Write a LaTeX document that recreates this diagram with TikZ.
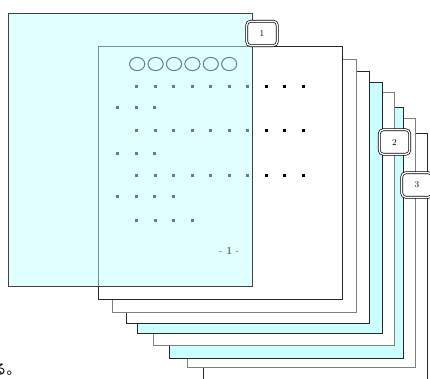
\documentclass[tikz,border=0pt]{standalone}
\usepackage{fontspec}
\newfontfamily\cjk{Noto Sans CJK JP}
\definecolor{pagecyan}{RGB}{204,255,255}
\definecolor{overcyan}{RGB}{198,255,255}
\begin{document}
\begin{tikzpicture}[x=1pt,y=-1pt,
  darkpage/.style={draw=black!85, fill=white, line width=0.8pt},
  graypage/.style={draw=black!50, fill=white, line width=0.8pt},
  cyanpage/.style={draw=black!85, fill=pagecyan, line width=0.8pt},
  ring/.style={draw=black, line width=1pt},
  dotmark/.style={fill=black},
  labelbox/.style={draw=black, double=white, double distance=1.3pt, line width=0.7pt,
    rounded corners=4pt, fill=white, minimum width=30.5pt, minimum height=24.5pt,
    inner sep=0pt, font=\fontsize{9}{10}\selectfont},
  pagenum/.style={font=\sffamily\bfseries\fontsize{10}{12}\selectfont, text=black}]
\useasboundingbox (0,0) rectangle (430,378);
% stacked pages, back to front
\draw[darkpage] (203,133.3) rectangle (427.3,392);
\draw[graypage] (187.3,118.3) rectangle (415.3,367.7);
\draw[cyanpage] (169,107.5) rectangle (403.7,358);
\draw[graypage] (153,92.7) rectangle (394.5,345.3);
\draw[cyanpage] (137,82.7) rectangle (382,333.3);
\draw[darkpage] (126,71.7) rectangle (369,323.3);
\draw[graypage] (112.7,59.3) rectangle (356,312);
\draw[darkpage] (98.7,46.7) rectangle (342.3,299);
% page 1 content
\foreach \k in {0,...,5}
  \draw[ring] (137.2+18.4*\k,64) ellipse (7.6pt and 6.6pt);
\foreach \y in {86,130,175.5}
  \foreach \k in {0,...,9}
    \fill[dotmark] (136.7+18.5*\k-1.5,\y-1.5) rectangle ++(3,3);
\foreach \y in {107.7,153.3}
  \foreach \k in {0,1,2}
    \fill[dotmark] (117.8+18.5*\k-1.5,\y-1.5) rectangle ++(3,3);
\foreach \k in {0,...,3}
  \fill[dotmark] (117.8+18.5*\k-1.5,196.7-1.5) rectangle ++(3,3);
\foreach \k in {0,...,3}
  \fill[dotmark] (136.7+18.5*\k-1.5,220-1.5) rectangle ++(3,3);
\node[pagenum] (pn) at (229.3,251) {- 1 -};
% translucent cyan page on top
\fill[overcyan, opacity=0.5] (8.3,13.3) rectangle (252.3,286.7);
\draw[black!75, line width=0.8pt] (8.3,13.3) rectangle (252.3,286.7);
% labels
\node[labelbox] (l1) at (262,33.4) {1};
\node[labelbox] (l2) at (394.5,142) {2};
\node[labelbox] (l3) at (417,185) {3};
% cut-off text
\node[anchor=base west, inner sep=0pt, font=\cjk\fontsize{14}{16}\selectfont] (txt) at (-7.5,374) {る。};
\end{tikzpicture}
\end{document}
